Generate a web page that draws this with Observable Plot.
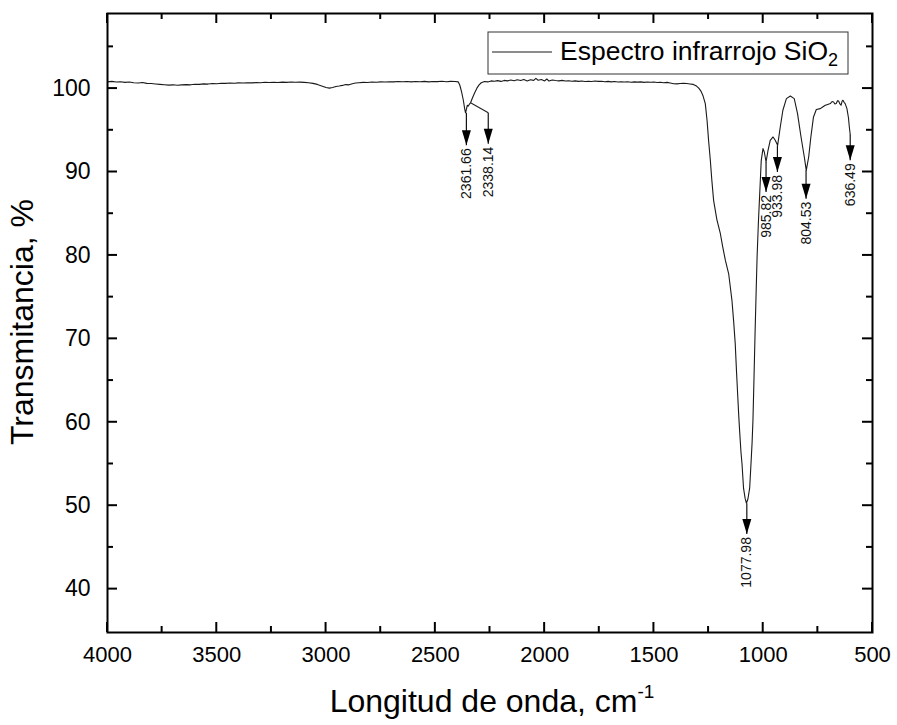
<!DOCTYPE html>
<html><head><meta charset="utf-8">
<script src="https://cdn.jsdelivr.net/npm/d3@7"></script>
<script src="https://cdn.jsdelivr.net/npm/@observablehq/plot@0.6"></script>
<style>body{margin:0;background:#fff} #chart{width:897px;height:725px}</style>
</head><body><div id="chart"></div>
<script>
// ---- data ----
const wavenumber = [
4000,3980,3960,3940,3920,3900,3880,3860,3840,3820,3800,3780,3760,3740,3720,3700,3680,3660,3640,3620,
3600,3580,3560,3540,3520,3500,3480,3460,3440,3420,3400,3380,3360,3340,3320,3300,3280,3260,3240,3220,
3200,3180,3160,3140,3120,3100,3080,3060,3040,3020,3000,2985,2970,2955,2940,2925,2910,2895,2880,2865,
2850,2830,2810,2790,2770,2750,2730,2710,2690,2670,2650,2630,2610,2590,2570,2550,2530,2510,2490,2470,
2450,2430,2410,2395,2388,2380,2372,2366,2362,2358,2354,2350,2345,2339,2330,2320,2310,2300,2290,2275,
2260,2245,2230,2215,2200,2185,2170,2155,2140,2125,2110,2095,2080,2065,2050,2040,2030,2015,2000,1990,
1980,1965,1950,1935,1920,1905,1890,1875,1860,1845,1830,1815,1800,1785,1770,1755,1740,1725,1710,1695,
1680,1665,1650,1635,1620,1605,1590,1575,1560,1545,1530,1515,1500,1485,1470,1455,1440,1425,1410,1395,
1380,1365,1350,1335,1320,1305,1295,1285,1275,1265,1257,1250,1242,1235,1227,1212,1196,1185,1173,1158,
1143,1135,1128,1122,1117,1112,1108,1102,1097,1090,1083,1077,1070,1062,1056,1051,1047,1042,1037,1032,
1028,1022,1016,1009,1001,995,987,978,968,955,945,934,922,910,894,876,858,843,827,812,
803,792,782,770,757,739,728,716,705,693,685,678,672,666,660,655,650,644,639,635,
630,625,617,610,606,602];
const transmittance = [
100.80,100.86,100.78,100.82,100.74,100.78,100.70,100.66,100.72,100.62,100.60,100.55,100.50,100.46,100.42,100.45,100.40,100.44,100.48,100.45,
100.52,100.50,100.56,100.54,100.60,100.58,100.64,100.62,100.66,100.63,100.68,100.66,100.70,100.68,100.72,100.70,100.75,100.72,100.76,100.73,
100.77,100.74,100.78,100.75,100.77,100.74,100.70,100.62,100.50,100.32,100.12,100.05,100.12,100.25,100.30,100.38,100.48,100.45,100.58,100.66,
100.70,100.74,100.72,100.78,100.76,100.80,100.78,100.82,100.80,100.84,100.81,100.85,100.80,100.84,100.82,100.86,100.80,100.85,100.83,100.87,
100.82,100.86,100.84,100.80,100.40,99.60,98.60,97.60,97.10,97.50,98.00,97.90,98.10,98.30,98.90,99.50,100.05,100.45,100.70,100.85,
100.80,100.92,100.88,100.95,100.86,100.98,100.92,101.02,100.94,101.05,100.96,101.10,100.92,101.06,100.98,101.22,101.00,101.08,100.92,101.15,
100.90,101.02,100.96,100.92,100.98,100.90,100.94,100.88,100.92,100.86,100.90,100.85,100.88,100.84,100.90,100.86,100.88,100.82,100.86,100.80,
100.84,100.79,100.82,100.78,100.81,100.76,100.80,100.77,100.80,100.74,100.78,100.75,100.78,100.72,100.75,100.70,100.74,100.66,100.58,100.56,
100.60,100.62,100.60,100.55,100.50,100.30,100.05,99.70,99.10,98.20,96.20,93.80,91.40,89.00,86.60,84.30,82.60,81.00,79.40,77.80,
74.60,72.00,69.40,66.00,63.40,60.80,59.00,56.50,55.00,52.10,50.90,50.30,50.80,52.10,55.00,57.50,60.20,65.50,71.00,76.00,
79.80,84.00,87.40,91.40,92.80,92.40,91.20,92.60,93.80,94.20,93.80,93.20,95.40,97.40,98.80,99.10,98.80,97.00,94.20,91.80,
90.20,91.80,94.20,96.60,97.50,97.60,97.80,98.00,98.10,98.20,98.45,98.40,98.15,98.20,98.55,98.50,98.20,98.00,98.50,98.60,
98.35,98.20,97.60,96.50,95.40,94.50];

// peak annotations
const peakLabel = ["2361.66","2338.14","1077.98","985.82","933.98","804.53","636.49"];
const arrowWn   = [2358, 2258, 1075, 987, 935, 804, 602];   // where the arrow is drawn
const arrowFrom = [97.1, 97.1, 50.3, 91.2, 93.2, 90.2, 94.5];
const arrowTip  = [93.2, 93.4, 46.6, 87.6, 90.0, 86.8, 91.4];
const leaderWn  = [null, 2339, null, null, null, null, null]; // leader line start (moved label)
const leaderT   = [null, 98.3, null, null, null, null, null];

// axes
const xMajor = [4000,3500,3000,2500,2000,1500,1000,500];
const xMinor = [3750,3250,2750,2250,1750,1250,750];
const yMajor = [40,50,60,70,80,90,100];
const yMinor = [45,55,65,75,85,95,105];
const xDomain = [4000, 500];
const yDomain = [34.8, 109];
const xTitle = "Longitud de onda, cm";
const xTitleSup = "-1";
const yTitle = "Transmitancia, %";
const legendText = "Espectro infrarrojo SiO";
const legendSub = "2";

// ---- build ----
const spectrum = wavenumber.map((w, i) => ({w, t: transmittance[i]}));
const peaks = peakLabel.map((label, i) => ({label, x: arrowWn[i], from: arrowFrom[i], tip: arrowTip[i], lx: leaderWn[i], ly: leaderT[i]}));
const head = {draw(ctx) { ctx.moveTo(0, 0); ctx.lineTo(-4.5, -15); ctx.lineTo(4.5, -15); ctx.closePath(); }};
const font = "'Liberation Sans', Arial, sans-serif";

const chart = Plot.plot({
  width: 897, height: 725,
  marginLeft: 107, marginRight: 25, marginTop: 13, marginBottom: 93,
  style: {fontFamily: font, background: "white", color: "black", overflow: "visible"},
  x: {domain: xDomain},
  y: {domain: yDomain},
  marks: [
    Plot.line(spectrum, {x: "w", y: "t", stroke: "#1a1a1a", strokeWidth: 1.1}),
    Plot.link(peaks.filter(d => d.lx != null), {x1: "lx", y1: "ly", x2: "x", y2: "from", stroke: "#222", strokeWidth: 1.1}),
    Plot.link(peaks, {x1: "x", x2: "x", y1: "from", y2: "tip", stroke: "#111", strokeWidth: 1.2}),
    Plot.dot(peaks, {x: "x", y: "tip", symbol: head, fill: "black", stroke: "none", r: 5}),
    Plot.text(peaks, {x: "x", y: "tip", text: "label", rotate: -90, textAnchor: "end", lineAnchor: "middle", dy: 3, fontSize: 14, fill: "#111"}),
    Plot.axisX({ticks: xMajor, anchor: "bottom", tickSize: 0, tickPadding: 14, fontSize: 22, label: null, tickFormat: d => String(d)}),
    Plot.axisY({ticks: yMajor, anchor: "left", tickSize: 0, tickPadding: 17, fontSize: 23, label: null, tickFormat: d => String(d)}),
    Plot.frame({stroke: "black", strokeWidth: 2})
  ]
});
document.getElementById("chart").appendChild(chart);

const svg = d3.select(chart);
const xs = chart.scale("x"), ys = chart.scale("y");
const [L, R] = xs.range, [B, T] = ys.range;

// inward ticks on all four sides, placed with Plot's own scales
const tg = svg.append("g").attr("stroke", "black").attr("stroke-width", 2);
const tickSets = [[xMajor, 10], [xMinor, 6]];
for (const [vals, len] of tickSets) {
  for (const v of vals) {
    const px = xs.apply(v);
    tg.append("line").attr("x1", px).attr("x2", px).attr("y1", B).attr("y2", B - len);
    tg.append("line").attr("x1", px).attr("x2", px).attr("y1", T).attr("y2", T + len);
  }
}
for (const [vals, len] of [[yMajor, 10], [yMinor, 6]]) {
  for (const v of vals) {
    const py = ys.apply(v);
    tg.append("line").attr("x1", L).attr("x2", L + len).attr("y1", py).attr("y2", py);
    tg.append("line").attr("x1", R).attr("x2", R - len).attr("y1", py).attr("y2", py);
  }
}

// titles
svg.append("text").attr("transform", "translate(33,322) rotate(-90)")
  .attr("text-anchor", "middle").attr("font-size", 32).attr("font-family", font).attr("fill", "black").text(yTitle);
const xt = svg.append("text").attr("x", 492).attr("y", 712).attr("text-anchor", "middle")
  .attr("font-size", 32).attr("font-family", font).attr("fill", "black");
xt.append("tspan").text(xTitle);
xt.append("tspan").attr("font-size", 19).attr("dy", -14).text(xTitleSup);

// legend
const lg = svg.append("g");
lg.append("rect").attr("x", 488).attr("y", 32).attr("width", 360).attr("height", 42)
  .attr("fill", "white").attr("stroke", "#333").attr("stroke-width", 1);
lg.append("line").attr("x1", 492).attr("x2", 552).attr("y1", 52).attr("y2", 52).attr("stroke", "#1a1a1a").attr("stroke-width", 1.1);
const lt = lg.append("text").attr("x", 560).attr("y", 60).attr("text-anchor", "start")
  .attr("font-size", 26.5).attr("font-family", font).attr("fill", "black");
lt.append("tspan").text(legendText);
lt.append("tspan").attr("font-size", 18).attr("dy", 6).text(legendSub);
</script>
</body></html>
